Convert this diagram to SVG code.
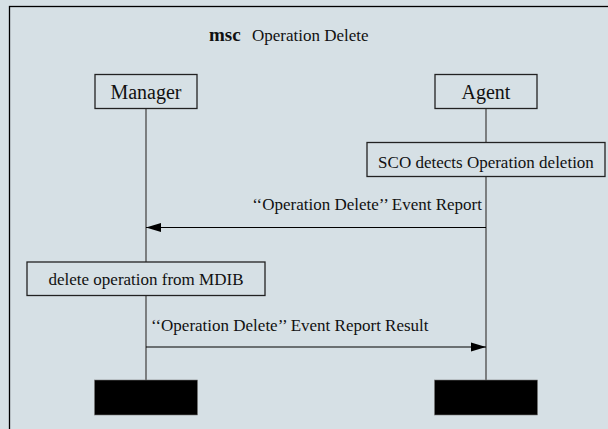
<svg xmlns="http://www.w3.org/2000/svg" width="608" height="429" viewBox="0 0 608 429">
<style>
text{font-family:"Liberation Serif","Times New Roman",serif;fill:#111;font-size:17px}
.inst{font-size:20px}
.box{fill:#d6e0e5;stroke:#222;stroke-width:1.3}
.life{stroke:#555;stroke-width:1.4}
.msg{stroke:#000;stroke-width:1.2;fill:none}
.end{fill:#000;stroke:#777;stroke-width:0.6}
</style>
<defs>
<marker id="ah" markerUnits="userSpaceOnUse" markerWidth="16" markerHeight="10" refX="15" refY="5" orient="auto">
<path d="M0,0.5 L15,5 L0,9.5 z" fill="#000"/>
</marker>
</defs>
<rect x="0" y="0" width="608" height="429" fill="#d6e0e5"/>
<rect x="9.5" y="6.5" width="700" height="500" fill="none" stroke="#000" stroke-width="1.3"/>
<g id="title">
<text x="209" y="41" font-weight="bold" style="font-size:19px">msc</text>
<text x="252" y="41">Operation Delete</text>
</g>
<g id="lifelines">
<line class="life" x1="146" y1="108" x2="146" y2="380"/>
<line class="life" x1="486" y1="108" x2="486" y2="380"/>
</g>
<g id="manager">
<rect class="box" x="95" y="74.5" width="102" height="34"/>
<text class="inst" x="146" y="99" text-anchor="middle">Manager</text>
</g>
<g id="agent">
<rect class="box" x="435" y="74.5" width="102" height="34"/>
<text class="inst" x="486" y="99" text-anchor="middle">Agent</text>
</g>
<g id="sco">
<rect class="box" x="367" y="142.5" width="238" height="34"/>
<text x="486" y="168" text-anchor="middle">SCO detects Operation deletion</text>
</g>
<g id="deleteop">
<rect class="box" x="27" y="262" width="238" height="33.5"/>
<text x="146" y="285" text-anchor="middle">delete operation from MDIB</text>
</g>
<g id="connectors">
<line class="msg" x1="486" y1="227.5" x2="146" y2="227.5" marker-end="url(#ah)"/>
<text x="482" y="210" text-anchor="end">‘‘Operation Delete’’ Event Report</text>
<line class="msg" x1="146" y1="347" x2="486" y2="347" marker-end="url(#ah)"/>
<text x="151" y="331">‘‘Operation Delete’’ Event Report Result</text>
</g>
<g id="manager-end">
<rect class="end" x="94.5" y="380" width="103" height="35"/>
</g>
<g id="agent-end">
<rect class="end" x="434.5" y="380" width="103" height="35"/>
</g>
</svg>
